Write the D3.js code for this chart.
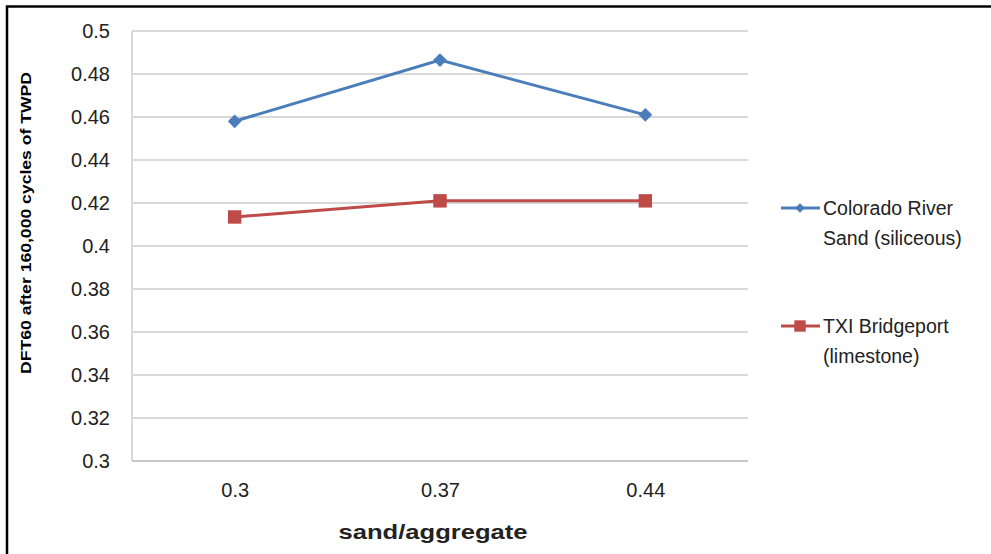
<!DOCTYPE html>
<html><head><meta charset="utf-8">
<script src="https://cdn.jsdelivr.net/npm/d3@7/dist/d3.min.js"></script>
<style>body{margin:0;background:#fff}svg{display:block}</style>
</head><body>
<svg id="c" width="991" height="554"></svg>
<script>
const categories = ["0.3", "0.37", "0.44"];
const coloradoValues = [0.458, 0.4865, 0.461];
const txiValues = [0.4135, 0.421, 0.421];
const yTicks = [0.3, 0.32, 0.34, 0.36, 0.38, 0.4, 0.42, 0.44, 0.46, 0.48, 0.5];
const seriesNames = [["Colorado River", "Sand (siliceous)"], ["TXI Bridgeport", "(limestone)"]];
const yTitle = "DFT60 after 160,000 cycles of TWPD";
const xTitle = "sand/aggregate";

const svg = d3.select("#c");
const font = "'Liberation Sans', Arial, sans-serif";
const L = 132, R = 748, T = 31, B = 461;

// border
svg.append("path").attr("d", "M7,554 V6.5 H991").attr("fill", "none").attr("stroke", "#000").attr("stroke-width", 2.5);

const x = d3.scalePoint().domain(categories).range([L, R]).padding(0.5);
const y = d3.scaleLinear().domain([0.3, 0.5]).range([B, T]);

// gridlines
svg.append("g").selectAll("line").data(yTicks.slice(1)).join("line")
  .attr("x1", L).attr("x2", R).attr("y1", d => y(d)).attr("y2", d => y(d))
  .attr("stroke", "#d9d9d9").attr("stroke-width", 2);
// axes lines
svg.append("line").attr("x1", L).attr("x2", L).attr("y1", T).attr("y2", B).attr("stroke", "#d9d9d9").attr("stroke-width", 2);
svg.append("line").attr("x1", L).attr("x2", R).attr("y1", B).attr("y2", B).attr("stroke", "#c8c8c8").attr("stroke-width", 2);

// y axis labels
const yAxis = d3.axisLeft(y).tickValues(yTicks).tickSize(0).tickPadding(22).tickFormat(d => String(+d.toFixed(2)));
const gy = svg.append("g").attr("transform", `translate(${L},0)`).call(yAxis);
gy.select(".domain").remove();
gy.selectAll("text").attr("font-family", font).attr("font-size", 20).attr("fill", "#222");

const xAxis = d3.axisBottom(x).tickSize(0).tickPadding(22);
const gx = svg.append("g").attr("transform", `translate(0,${B})`).call(xAxis);
gx.select(".domain").remove();
gx.selectAll("text").attr("font-family", font).attr("font-size", 20).attr("fill", "#222");

// titles
svg.append("text").attr("transform", "translate(31,223) rotate(-90)").attr("text-anchor", "middle")
  .attr("font-family", font).attr("font-weight", "bold").attr("font-size", 15).attr("fill", "#000")
  .attr("textLength", 302).attr("lengthAdjust", "spacingAndGlyphs").text(yTitle);
svg.append("text").attr("x", 433).attr("y", 539).attr("text-anchor", "middle")
  .attr("font-family", font).attr("font-weight", "bold").attr("font-size", 21).attr("fill", "#222")
  .attr("textLength", 189).attr("lengthAdjust", "spacingAndGlyphs").text(xTitle);

const colors = ["#4a7ebb", "#be4b48"];
const data = [coloradoValues, txiValues];
const line = d3.line().x((d, i) => x(categories[i])).y(d => y(d));
data.forEach((vals, s) => {
  svg.append("path").datum(vals).attr("d", line).attr("fill", "none").attr("stroke", colors[s]).attr("stroke-width", 3);
  const sym = s === 0 ? d3.symbol(d3.symbolDiamond2, 120) : d3.symbol(d3.symbolSquare, 180);
  svg.append("g").selectAll("path").data(vals).join("path")
    .attr("transform", (d, i) => `translate(${x(categories[i])},${y(d)})`)
    .attr("d", sym).attr("fill", colors[s]);
});

// legend
const legY = [208, 326];
seriesNames.forEach((names, s) => {
  const g = svg.append("g");
  g.append("line").attr("x1", 781).attr("x2", 820).attr("y1", legY[s]).attr("y2", legY[s]).attr("stroke", colors[s]).attr("stroke-width", 3);
  const sym = s === 0 ? d3.symbol(d3.symbolDiamond2, 60) : d3.symbol(d3.symbolSquare, 130);
  g.append("path").attr("transform", `translate(800,${legY[s]})`).attr("d", sym).attr("fill", colors[s]);
  names.forEach((n, k) => {
    g.append("text").attr("x", 823).attr("y", legY[s] + 7 + k * 30)
      .attr("font-family", font).attr("font-size", 19.5).attr("fill", "#222").text(n);
  });
});
</script>
</body></html>
